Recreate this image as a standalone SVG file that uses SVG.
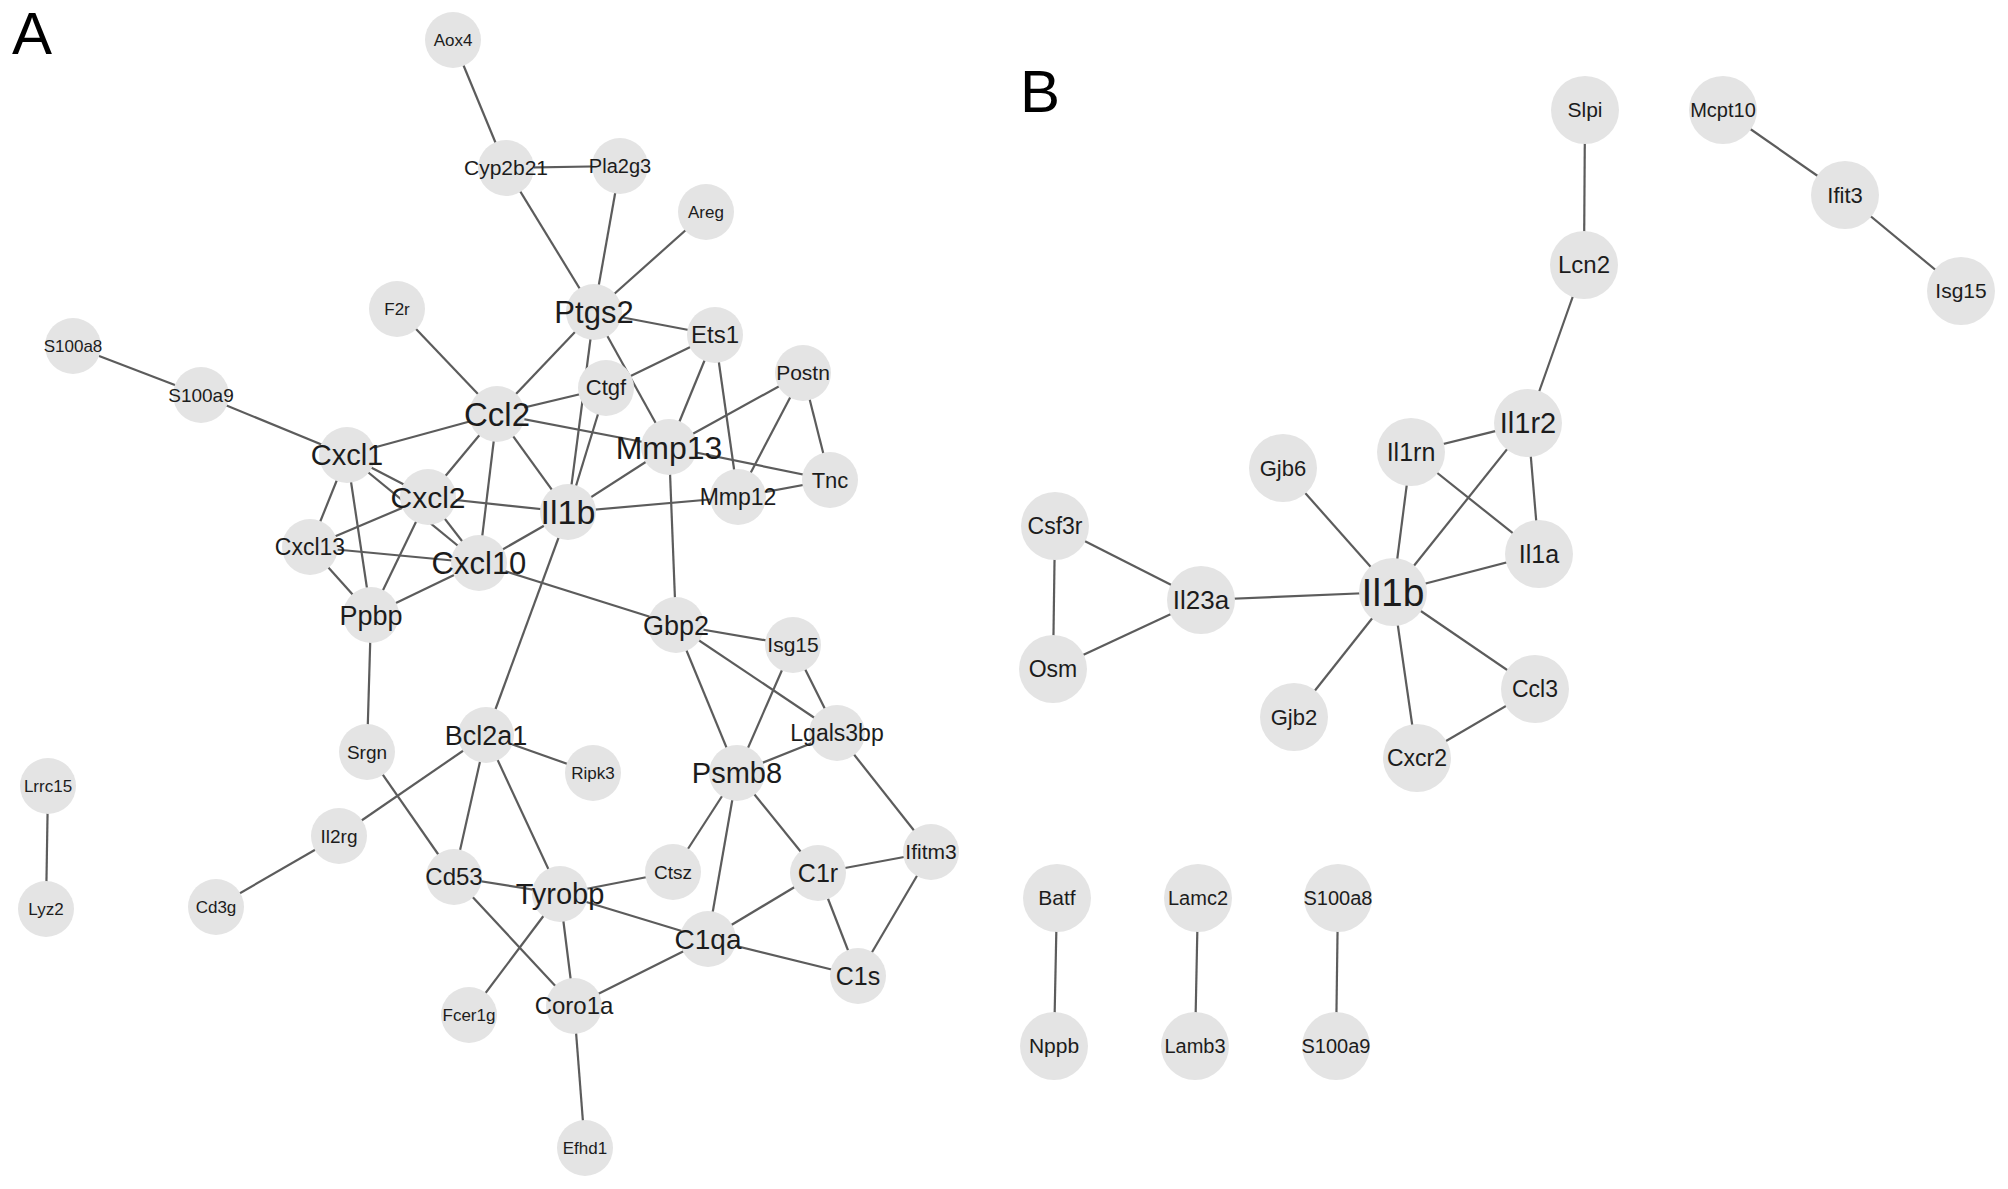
<svg xmlns="http://www.w3.org/2000/svg" width="2008" height="1189" viewBox="0 0 2008 1189">
<style>
.e line{stroke:#5c5c5c;stroke-width:2.2}
.a circle{fill:#e4e4e4}
.b circle{fill:#e4e4e4}
text{font-family:"Liberation Sans",Arial,sans-serif;fill:#1c1c1c;text-anchor:middle}
.p{font-size:60px;text-anchor:start;fill:#000}
</style>
<rect width="2008" height="1189" fill="#fff"/>
<text class="p" x="12" y="54">A</text>
<text class="p" x="1020" y="112">B</text>
<g class="e" id="connectors">
<!-- Panel A -->
<line x1="453" y1="40" x2="506" y2="168"/>
<line x1="506" y1="168" x2="620" y2="166"/>
<line x1="506" y1="168" x2="594" y2="312"/>
<line x1="620" y1="166" x2="594" y2="312"/>
<line x1="706" y1="212" x2="594" y2="312"/>
<line x1="594" y1="312" x2="715" y2="335"/>
<line x1="594" y1="312" x2="497" y2="414"/>
<line x1="594" y1="312" x2="568" y2="512"/>
<line x1="594" y1="312" x2="669" y2="447"/>
<line x1="397" y1="309" x2="497" y2="414"/>
<line x1="73" y1="346" x2="201" y2="395"/>
<line x1="201" y1="395" x2="347" y2="455"/>
<line x1="606" y1="388" x2="715" y2="335"/>
<line x1="497" y1="414" x2="606" y2="388"/>
<line x1="606" y1="388" x2="568" y2="512"/>
<line x1="715" y1="335" x2="669" y2="447"/>
<line x1="715" y1="335" x2="738" y2="497"/>
<line x1="803" y1="373" x2="669" y2="447"/>
<line x1="803" y1="373" x2="738" y2="497"/>
<line x1="803" y1="373" x2="830" y2="480"/>
<line x1="669" y1="447" x2="830" y2="480"/>
<line x1="738" y1="497" x2="830" y2="480"/>
<line x1="497" y1="414" x2="669" y2="447"/>
<line x1="497" y1="414" x2="347" y2="455"/>
<line x1="497" y1="414" x2="428" y2="497"/>
<line x1="497" y1="414" x2="479" y2="563"/>
<line x1="497" y1="414" x2="568" y2="512"/>
<line x1="669" y1="447" x2="568" y2="512"/>
<line x1="669" y1="447" x2="676" y2="625"/>
<line x1="568" y1="512" x2="738" y2="497"/>
<line x1="568" y1="512" x2="428" y2="497"/>
<line x1="568" y1="512" x2="479" y2="563"/>
<line x1="568" y1="512" x2="486" y2="735"/>
<line x1="347" y1="455" x2="428" y2="497"/>
<line x1="347" y1="455" x2="479" y2="563"/>
<line x1="428" y1="497" x2="479" y2="563"/>
<line x1="347" y1="455" x2="310" y2="547"/>
<line x1="347" y1="455" x2="371" y2="615"/>
<line x1="428" y1="497" x2="310" y2="547"/>
<line x1="428" y1="497" x2="371" y2="615"/>
<line x1="310" y1="547" x2="479" y2="563"/>
<line x1="310" y1="547" x2="371" y2="615"/>
<line x1="479" y1="563" x2="371" y2="615"/>
<line x1="479" y1="563" x2="676" y2="625"/>
<line x1="371" y1="615" x2="367" y2="752"/>
<line x1="676" y1="625" x2="793" y2="645"/>
<line x1="676" y1="625" x2="837" y2="733"/>
<line x1="676" y1="625" x2="737" y2="773"/>
<line x1="793" y1="645" x2="837" y2="733"/>
<line x1="793" y1="645" x2="737" y2="773"/>
<line x1="837" y1="733" x2="737" y2="773"/>
<line x1="837" y1="733" x2="931" y2="852"/>
<line x1="737" y1="773" x2="673" y2="872"/>
<line x1="737" y1="773" x2="708" y2="939"/>
<line x1="737" y1="773" x2="818" y2="873"/>
<line x1="486" y1="735" x2="593" y2="773"/>
<line x1="486" y1="735" x2="339" y2="836"/>
<line x1="486" y1="735" x2="454" y2="877"/>
<line x1="486" y1="735" x2="560" y2="894"/>
<line x1="339" y1="836" x2="216" y2="907"/>
<line x1="367" y1="752" x2="454" y2="877"/>
<line x1="454" y1="877" x2="560" y2="894"/>
<line x1="454" y1="877" x2="574" y2="1006"/>
<line x1="560" y1="894" x2="673" y2="872"/>
<line x1="560" y1="894" x2="708" y2="939"/>
<line x1="560" y1="894" x2="469" y2="1015"/>
<line x1="560" y1="894" x2="574" y2="1006"/>
<line x1="708" y1="939" x2="574" y2="1006"/>
<line x1="708" y1="939" x2="818" y2="873"/>
<line x1="708" y1="939" x2="858" y2="976"/>
<line x1="818" y1="873" x2="858" y2="976"/>
<line x1="818" y1="873" x2="931" y2="852"/>
<line x1="931" y1="852" x2="858" y2="976"/>
<line x1="574" y1="1006" x2="585" y2="1148"/>
<line x1="48" y1="786" x2="46" y2="909"/>
<!-- Panel B -->
<line x1="1585" y1="110" x2="1584" y2="265"/>
<line x1="1584" y1="265" x2="1528" y2="423"/>
<line x1="1723" y1="110" x2="1845" y2="195"/>
<line x1="1845" y1="195" x2="1961" y2="291"/>
<line x1="1528" y1="423" x2="1411" y2="452"/>
<line x1="1528" y1="423" x2="1539" y2="554"/>
<line x1="1528" y1="423" x2="1393" y2="592"/>
<line x1="1411" y1="452" x2="1393" y2="592"/>
<line x1="1411" y1="452" x2="1539" y2="554"/>
<line x1="1539" y1="554" x2="1393" y2="592"/>
<line x1="1283" y1="468" x2="1393" y2="592"/>
<line x1="1201" y1="600" x2="1393" y2="592"/>
<line x1="1055" y1="526" x2="1201" y2="600"/>
<line x1="1055" y1="526" x2="1053" y2="669"/>
<line x1="1053" y1="669" x2="1201" y2="600"/>
<line x1="1393" y1="592" x2="1294" y2="717"/>
<line x1="1393" y1="592" x2="1417" y2="758"/>
<line x1="1393" y1="592" x2="1535" y2="689"/>
<line x1="1535" y1="689" x2="1417" y2="758"/>
<line x1="1057" y1="898" x2="1054" y2="1046"/>
<line x1="1198" y1="898" x2="1195" y2="1046"/>
<line x1="1338" y1="898" x2="1336" y2="1046"/>
</g>
<g class="a">
<g id="A-Aox4"><circle cx="453" cy="40" r="28"/><text x="453" y="46" font-size="17">Aox4</text></g>
<g id="A-Cyp2b21"><circle cx="506" cy="168" r="28"/><text x="506" y="175" font-size="21">Cyp2b21</text></g>
<g id="A-Pla2g3"><circle cx="620" cy="166" r="28"/><text x="620" y="173" font-size="20">Pla2g3</text></g>
<g id="A-Areg"><circle cx="706" cy="212" r="28"/><text x="706" y="218" font-size="17">Areg</text></g>
<g id="A-Ptgs2"><circle cx="594" cy="312" r="28"/><text x="594" y="323" font-size="31">Ptgs2</text></g>
<g id="A-F2r"><circle cx="397" cy="309" r="28"/><text x="397" y="315" font-size="17">F2r</text></g>
<g id="A-Ets1"><circle cx="715" cy="335" r="28"/><text x="715" y="343" font-size="24">Ets1</text></g>
<g id="A-S100a8"><circle cx="73" cy="346" r="28"/><text x="73" y="352" font-size="17">S100a8</text></g>
<g id="A-S100a9"><circle cx="201" cy="395" r="28"/><text x="201" y="402" font-size="19">S100a9</text></g>
<g id="A-Postn"><circle cx="803" cy="373" r="28"/><text x="803" y="380" font-size="21">Postn</text></g>
<g id="A-Ctgf"><circle cx="606" cy="388" r="28"/><text x="606" y="395" font-size="22">Ctgf</text></g>
<g id="A-Ccl2"><circle cx="497" cy="414" r="28"/><text x="497" y="426" font-size="33">Ccl2</text></g>
<g id="A-Mmp13"><circle cx="669" cy="447" r="28"/><text x="669" y="459" font-size="32">Mmp13</text></g>
<g id="A-Cxcl1"><circle cx="347" cy="455" r="28"/><text x="347" y="465" font-size="29">Cxcl1</text></g>
<g id="A-Tnc"><circle cx="830" cy="480" r="28"/><text x="830" y="488" font-size="22">Tnc</text></g>
<g id="A-Cxcl2"><circle cx="428" cy="497" r="28"/><text x="428" y="508" font-size="30">Cxcl2</text></g>
<g id="A-Il1b"><circle cx="568" cy="512" r="28"/><text x="568" y="524" font-size="34">Il1b</text></g>
<g id="A-Mmp12"><circle cx="738" cy="497" r="28"/><text x="738" y="505" font-size="23">Mmp12</text></g>
<g id="A-Cxcl13"><circle cx="310" cy="547" r="28"/><text x="310" y="555" font-size="23">Cxcl13</text></g>
<g id="A-Cxcl10"><circle cx="479" cy="563" r="28"/><text x="479" y="574" font-size="31">Cxcl10</text></g>
<g id="A-Ppbp"><circle cx="371" cy="615" r="28"/><text x="371" y="625" font-size="27">Ppbp</text></g>
<g id="A-Gbp2"><circle cx="676" cy="625" r="28"/><text x="676" y="635" font-size="27">Gbp2</text></g>
<g id="A-Isg15"><circle cx="793" cy="645" r="28"/><text x="793" y="652" font-size="21">Isg15</text></g>
<g id="A-Bcl2a1"><circle cx="486" cy="735" r="28"/><text x="486" y="745" font-size="27">Bcl2a1</text></g>
<g id="A-Srgn"><circle cx="367" cy="752" r="28"/><text x="367" y="759" font-size="19">Srgn</text></g>
<g id="A-Ripk3"><circle cx="593" cy="773" r="28"/><text x="593" y="779" font-size="17">Ripk3</text></g>
<g id="A-Lgals3bp"><circle cx="837" cy="733" r="28"/><text x="837" y="741" font-size="23">Lgals3bp</text></g>
<g id="A-Psmb8"><circle cx="737" cy="773" r="28"/><text x="737" y="783" font-size="29">Psmb8</text></g>
<g id="A-Lrrc15"><circle cx="48" cy="786" r="28"/><text x="48" y="792" font-size="17">Lrrc15</text></g>
<g id="A-Il2rg"><circle cx="339" cy="836" r="28"/><text x="339" y="843" font-size="19">Il2rg</text></g>
<g id="A-Ifitm3"><circle cx="931" cy="852" r="28"/><text x="931" y="859" font-size="21">Ifitm3</text></g>
<g id="A-Cd53"><circle cx="454" cy="877" r="28"/><text x="454" y="885" font-size="24">Cd53</text></g>
<g id="A-Tyrobp"><circle cx="560" cy="894" r="28"/><text x="560" y="904" font-size="29">Tyrobp</text></g>
<g id="A-Ctsz"><circle cx="673" cy="872" r="28"/><text x="673" y="879" font-size="19">Ctsz</text></g>
<g id="A-C1r"><circle cx="818" cy="873" r="28"/><text x="818" y="882" font-size="25">C1r</text></g>
<g id="A-Cd3g"><circle cx="216" cy="907" r="28"/><text x="216" y="913" font-size="17">Cd3g</text></g>
<g id="A-Lyz2"><circle cx="46" cy="909" r="28"/><text x="46" y="915" font-size="17">Lyz2</text></g>
<g id="A-C1qa"><circle cx="708" cy="939" r="28"/><text x="708" y="949" font-size="28">C1qa</text></g>
<g id="A-C1s"><circle cx="858" cy="976" r="28"/><text x="858" y="985" font-size="25">C1s</text></g>
<g id="A-Fcer1g"><circle cx="469" cy="1015" r="28"/><text x="469" y="1021" font-size="17">Fcer1g</text></g>
<g id="A-Coro1a"><circle cx="574" cy="1006" r="28"/><text x="574" y="1014" font-size="24">Coro1a</text></g>
<g id="A-Efhd1"><circle cx="585" cy="1148" r="28"/><text x="585" y="1154" font-size="17">Efhd1</text></g>
</g>
<g class="b">
<g id="B-Slpi"><circle cx="1585" cy="110" r="34"/><text x="1585" y="117" font-size="21">Slpi</text></g>
<g id="B-Mcpt10"><circle cx="1723" cy="110" r="34"/><text x="1723" y="117" font-size="20">Mcpt10</text></g>
<g id="B-Ifit3"><circle cx="1845" cy="195" r="34"/><text x="1845" y="203" font-size="22">Ifit3</text></g>
<g id="B-Isg15"><circle cx="1961" cy="291" r="34"/><text x="1961" y="298" font-size="21">Isg15</text></g>
<g id="B-Lcn2"><circle cx="1584" cy="265" r="34"/><text x="1584" y="273" font-size="24">Lcn2</text></g>
<g id="B-Il1r2"><circle cx="1528" cy="423" r="34"/><text x="1528" y="433" font-size="29">Il1r2</text></g>
<g id="B-Il1rn"><circle cx="1411" cy="452" r="34"/><text x="1411" y="461" font-size="25">Il1rn</text></g>
<g id="B-Gjb6"><circle cx="1283" cy="468" r="34"/><text x="1283" y="476" font-size="22">Gjb6</text></g>
<g id="B-Csf3r"><circle cx="1055" cy="526" r="34"/><text x="1055" y="534" font-size="23">Csf3r</text></g>
<g id="B-Il1a"><circle cx="1539" cy="554" r="34"/><text x="1539" y="563" font-size="25">Il1a</text></g>
<g id="B-Il1b"><circle cx="1393" cy="592" r="34"/><text x="1393" y="606" font-size="39">Il1b</text></g>
<g id="B-Il23a"><circle cx="1201" cy="600" r="34"/><text x="1201" y="609" font-size="26">Il23a</text></g>
<g id="B-Osm"><circle cx="1053" cy="669" r="34"/><text x="1053" y="677" font-size="23">Osm</text></g>
<g id="B-Ccl3"><circle cx="1535" cy="689" r="34"/><text x="1535" y="697" font-size="23">Ccl3</text></g>
<g id="B-Gjb2"><circle cx="1294" cy="717" r="34"/><text x="1294" y="725" font-size="22">Gjb2</text></g>
<g id="B-Cxcr2"><circle cx="1417" cy="758" r="34"/><text x="1417" y="766" font-size="23">Cxcr2</text></g>
<g id="B-Batf"><circle cx="1057" cy="898" r="34"/><text x="1057" y="905" font-size="21">Batf</text></g>
<g id="B-Nppb"><circle cx="1054" cy="1046" r="34"/><text x="1054" y="1053" font-size="21">Nppb</text></g>
<g id="B-Lamc2"><circle cx="1198" cy="898" r="34"/><text x="1198" y="905" font-size="20">Lamc2</text></g>
<g id="B-Lamb3"><circle cx="1195" cy="1046" r="34"/><text x="1195" y="1053" font-size="20">Lamb3</text></g>
<g id="B-S100a8"><circle cx="1338" cy="898" r="34"/><text x="1338" y="905" font-size="20">S100a8</text></g>
<g id="B-S100a9"><circle cx="1336" cy="1046" r="34"/><text x="1336" y="1053" font-size="20">S100a9</text></g>
</g>
</svg>
